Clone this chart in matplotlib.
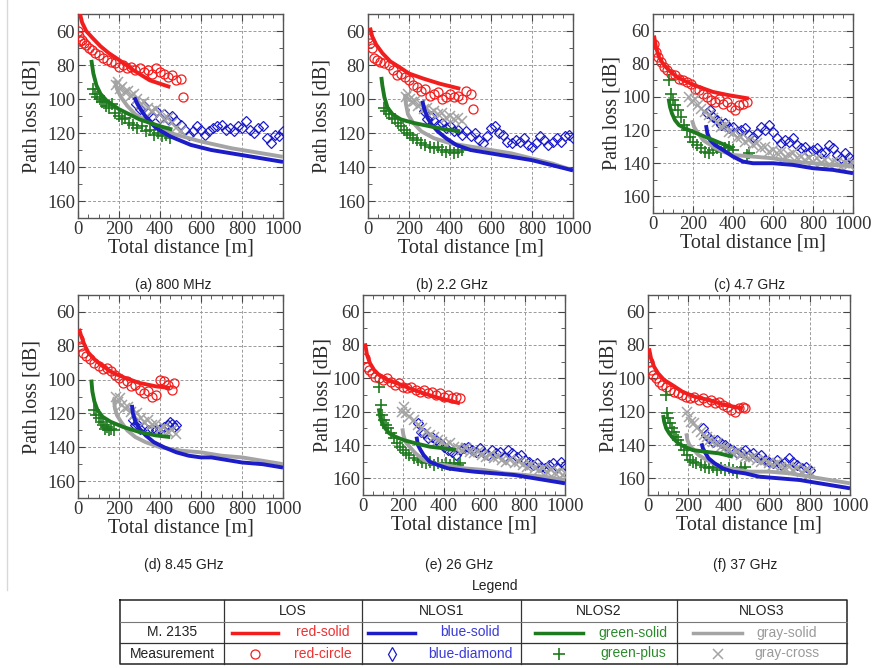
import numpy as np
import matplotlib
matplotlib.use("Agg")
from matplotlib import pyplot as plt
from matplotlib.ticker import MultipleLocator

W, H = 875, 668

RED = "#f21d1d"
BLUE = "#1c1cc8"
GREEN = "#1e7a1e"
GRAY = "#a4a4a4"

SERIF = ["Liberation Serif", "DejaVu Serif"]
SANS = ["Liberation Sans", "DejaVu Sans"]

# ---------- (a) 800 MHz ----------
a_los_fit = [(10, 50), (20, 55), (40, 60), (70, 64), (110, 69), (150, 73), (200, 77), (270, 83), (350, 89), (450, 93)]
a_los_meas = [(0, 60), (5, 63), (10, 66), (20, 65), (30, 67), (40, 68), (55, 70), (70, 71), (85, 73), (100, 74),
              (120, 76), (140, 77), (160, 78), (180, 79), (200, 81), (220, 80), (240, 82), (260, 81), (280, 83),
              (300, 82), (320, 84), (340, 83), (360, 85), (380, 82), (400, 84), (420, 85), (440, 87), (460, 86),
              (480, 89), (500, 88), (510, 99)]
a_n1_fit = [(275, 99), (290, 103), (310, 107), (340, 112), (380, 117), (450, 122), (550, 127), (650, 130), (800, 133), (1000, 137)]
a_n1_meas = [(285, 103), (300, 106), (320, 104), (340, 108), (360, 110), (380, 107), (400, 111), (420, 109), (440, 112),
             (460, 110), (480, 113), (500, 115), (520, 118), (540, 121), (560, 119), (580, 116), (600, 118), (620, 121),
             (640, 119), (660, 117), (680, 116), (700, 115), (720, 118), (740, 117), (760, 119), (780, 116), (800, 117),
             (820, 113), (840, 118), (860, 120), (880, 117), (900, 116), (920, 123), (940, 126), (960, 121), (980, 122), (1000, 119)]
a_n2_fit = [(65, 77), (75, 85), (90, 92), (110, 97), (140, 101), (200, 106), (300, 112), (400, 116), (460, 118)]
a_n2_meas = [(75, 94), (85, 97), (95, 99), (105, 100), (115, 102), (125, 101), (135, 104), (150, 105), (165, 103),
             (180, 108), (200, 110), (215, 112), (230, 111), (250, 114), (270, 115), (290, 117), (310, 116), (330, 119),
             (350, 118), (370, 121), (390, 120), (410, 122), (430, 121), (450, 123)]
a_n3_fit = [(180, 89), (190, 94), (210, 99), (240, 104), (280, 109), (350, 114), (450, 120), (600, 125), (750, 129), (1000, 134)]
a_n3_meas = [(185, 92), (195, 90), (205, 94), (215, 93), (230, 96), (245, 95), (260, 98), (275, 97), (290, 100), (305, 103),
             (320, 102), (340, 105), (360, 107), (380, 106), (400, 109), (420, 112), (440, 111), (460, 114), (480, 117), (500, 119)]

# ---------- (b) 2.2 GHz ----------
b_los_fit = [(10, 58), (20, 63), (40, 68), (70, 73), (110, 78), (150, 81), (200, 85), (270, 88), (350, 91), (450, 94)]
b_los_meas = [(0, 64), (10, 67), (20, 70), (30, 76), (45, 77), (60, 78), (80, 79), (100, 80), (120, 83), (140, 86),
              (160, 85), (180, 87), (200, 89), (220, 92), (240, 93), (260, 95), (280, 94), (300, 98), (320, 97),
              (340, 96), (360, 100), (380, 99), (400, 97), (420, 99), (440, 98), (460, 100), (480, 95), (500, 97), (510, 106)]
b_n1_fit = [(265, 101), (275, 106), (290, 111), (310, 115), (340, 119), (380, 123), (430, 127), (500, 130), (600, 132),
            (700, 134), (800, 136), (900, 139), (1000, 142)]
b_n1_meas = [(275, 107), (290, 112), (305, 110), (320, 113), (340, 115), (360, 114), (380, 117), (400, 116), (420, 119),
             (440, 118), (460, 121), (480, 119), (500, 122), (520, 120), (540, 124), (560, 126), (580, 122), (600, 117),
             (620, 116), (640, 120), (660, 121), (680, 125), (700, 126), (720, 124), (740, 125), (760, 123), (780, 127),
             (800, 128), (820, 126), (840, 122), (860, 124), (880, 127), (900, 125), (920, 123), (940, 125), (960, 122),
             (980, 121), (1000, 123)]
b_n2_fit = [(65, 87), (70, 92), (80, 99), (95, 105), (120, 109), (160, 112), (220, 114), (300, 116), (380, 118), (450, 119)]
b_n2_meas = [(80, 105), (90, 107), (100, 109), (115, 111), (130, 112), (145, 114), (160, 116), (175, 118), (190, 120),
             (205, 121), (220, 123), (240, 124), (260, 126), (280, 127), (300, 128), (320, 129), (340, 128), (360, 130),
             (380, 131), (400, 130), (420, 132), (440, 131), (460, 130)]
b_n3_fit = [(180, 97), (185, 103), (195, 109), (220, 114), (260, 119), (320, 123), (400, 126), (500, 128), (600, 130),
            (700, 132), (800, 135), (900, 138), (1000, 142)]
b_n3_meas = [(185, 99), (195, 97), (205, 100), (215, 102), (230, 101), (245, 104), (260, 103), (275, 106), (290, 105),
             (305, 108), (320, 107), (340, 109), (360, 108), (380, 111), (400, 110), (420, 112), (440, 111), (460, 113)]

# ---------- (c) 4.7 GHz ----------
c_los_fit = [(5, 63), (15, 70), (30, 76), (50, 80), (80, 84), (120, 88), (170, 91), (230, 94), (300, 97), (380, 99), (480, 101)]
c_los_meas = [(5, 68), (15, 73), (25, 76), (40, 79), (55, 82), (70, 84), (90, 86), (110, 87), (130, 89), (150, 90),
              (170, 91), (190, 92), (210, 95), (230, 96), (250, 98), (270, 100), (290, 102), (310, 103), (330, 101),
              (350, 104), (370, 103), (390, 106), (410, 108), (430, 105), (450, 104), (470, 103)]
c_n1_fit = [(265, 117), (272, 122), (285, 126), (310, 129), (350, 132), (400, 136), (450, 139), (500, 140), (600, 140),
            (700, 141), (800, 143), (900, 144), (1000, 146)]
c_n1_meas = [(270, 110), (285, 108), (300, 112), (320, 114), (340, 117), (360, 116), (380, 119), (400, 118), (420, 121),
             (440, 120), (460, 119), (480, 123), (500, 124), (520, 122), (540, 118), (560, 120), (580, 117), (600, 121),
             (620, 125), (640, 128), (660, 126), (680, 127), (700, 125), (720, 129), (740, 131), (760, 130), (780, 133),
             (800, 132), (820, 131), (840, 134), (860, 133), (880, 129), (900, 131), (920, 135), (940, 137), (960, 134),
             (980, 136), (1000, 138)]
c_n2_fit = [(78, 101), (85, 106), (95, 110), (110, 114), (130, 117), (160, 119), (200, 121), (260, 124), (320, 127), (400, 131)]
c_n2_meas = [(80, 90), (90, 98), (100, 102), (110, 105), (125, 108), (140, 112), (155, 117), (170, 120), (185, 124),
             (200, 127), (220, 129), (240, 131), (260, 133), (280, 134), (300, 132), (320, 131), (340, 133), (360, 131),
             (380, 130), (400, 132), (470, 135), (480, 134)]
c_n3_fit = [(195, 114), (205, 118), (220, 121), (250, 126), (300, 130), (350, 133), (400, 135), (500, 136), (600, 137),
            (700, 139), (800, 140), (900, 141), (1000, 142)]
c_n3_meas = [(180, 100), (195, 103), (210, 101), (225, 105), (240, 107), (260, 109), (280, 111), (300, 113), (320, 115),
             (340, 118), (360, 117), (380, 121), (400, 122), (420, 125), (440, 124), (460, 127), (480, 126), (500, 129),
             (520, 128), (540, 131), (560, 130), (580, 133), (600, 132), (620, 134), (640, 133), (660, 136), (680, 135),
             (700, 134), (720, 137), (740, 136), (760, 138), (780, 137), (800, 139), (820, 137), (840, 140), (860, 138),
             (880, 141), (900, 139), (920, 140), (940, 142), (960, 140), (980, 141), (1000, 140)]

# ---------- (d) 8.45 GHz ----------
d_los_fit = [(5, 70), (15, 74), (30, 79), (50, 84), (80, 88), (120, 92), (170, 96), (230, 99), (300, 102), (380, 104), (450, 105)]
d_los_meas = [(5, 76), (15, 80), (25, 84), (40, 86), (60, 88), (80, 90), (100, 92), (120, 94), (140, 93), (160, 95),
              (180, 97), (200, 99), (220, 102), (240, 101), (260, 104), (280, 103), (300, 106), (320, 108), (340, 107),
              (360, 110), (380, 109), (400, 100), (420, 101), (440, 103), (460, 106), (470, 102)]
d_n1_fit = [(263, 115), (268, 120), (280, 125), (300, 129), (330, 133), (370, 137), (420, 140), (480, 143), (540, 145),
            (600, 146), (650, 146), (700, 147), (800, 149), (900, 150), (1000, 152)]
d_n1_meas = [(270, 124), (280, 127), (290, 126), (300, 129), (320, 128), (340, 130), (360, 129), (380, 130), (400, 129),
             (420, 128), (440, 127), (450, 125), (460, 126), (470, 128), (480, 127)]
d_n2_fit = [(65, 100), (70, 107), (80, 113), (95, 118), (120, 122), (160, 125), (220, 128), (300, 131), (380, 133), (450, 134)]
d_n2_meas = [(80, 118), (90, 121), (100, 123), (110, 125), (120, 127), (130, 129), (140, 128), (150, 130), (160, 129), (175, 130)]
d_n3_fit = [(175, 111), (180, 117), (190, 121), (210, 125), (240, 130), (280, 134), (330, 137), (400, 140), (500, 142),
            (600, 143), (700, 145), (800, 146), (900, 148), (1000, 150)]
d_n3_meas = [(185, 110), (195, 113), (205, 111), (215, 115), (230, 117), (245, 116), (260, 119), (275, 121), (290, 120),
             (305, 123), (320, 125), (340, 124), (360, 127), (380, 126), (400, 129), (420, 128), (440, 131), (460, 130), (480, 132)]

# ---------- (e) 26 GHz ----------
e_los_fit = [(10, 79), (20, 86), (35, 91), (55, 95), (80, 98), (120, 101), (170, 103), (230, 106), (300, 109), (380, 112), (480, 115)]
e_los_meas = [(10, 88), (20, 93), (30, 95), (45, 97), (60, 99), (80, 100), (100, 101), (120, 100), (140, 102), (160, 104),
              (180, 103), (200, 105), (220, 106), (240, 105), (260, 107), (280, 108), (300, 107), (320, 109), (340, 108),
              (360, 110), (380, 109), (400, 111), (420, 110), (440, 112), (460, 111), (480, 112)]
e_n1_fit = [(265, 135), (272, 140), (285, 143), (300, 146), (330, 150), (370, 152), (420, 154), (480, 155), (550, 156),
            (650, 157), (750, 158), (850, 160), (1000, 163)]
e_n1_meas = [(270, 127), (285, 132), (300, 133), (320, 136), (340, 135), (360, 137), (380, 139), (400, 141), (420, 143),
             (440, 144), (460, 146), (480, 143), (500, 142), (520, 141), (540, 143), (560, 144), (580, 142), (600, 145),
             (620, 146), (640, 143), (660, 145), (680, 144), (700, 147), (720, 143), (740, 145), (760, 147), (780, 146),
             (800, 149), (820, 150), (840, 152), (860, 151), (880, 153), (900, 154), (920, 152), (940, 151), (960, 153),
             (980, 150), (1000, 152)]
e_n2_fit = [(78, 118), (85, 123), (95, 127), (110, 130), (130, 133), (160, 135), (200, 137), (260, 139), (330, 141), (400, 142), (460, 143)]
e_n2_meas = [(80, 105), (90, 116), (95, 122), (105, 125), (115, 128), (125, 130), (140, 133), (155, 136), (170, 139),
             (185, 141), (200, 143), (215, 145), (230, 146), (250, 148), (270, 149), (290, 150), (310, 151), (330, 150),
             (350, 152), (370, 151), (390, 152), (410, 151), (430, 152), (450, 151), (470, 152), (480, 151)]
e_n3_fit = [(195, 130), (200, 134), (210, 138), (230, 141), (260, 145), (300, 149), (350, 151), (400, 152), (500, 154),
            (600, 155), (700, 157), (800, 158), (900, 159), (1000, 161)]
e_n3_meas = [(195, 120), (205, 117), (215, 121), (230, 123), (250, 125), (270, 128), (290, 130), (310, 132), (330, 134),
             (350, 135), (370, 137), (390, 138), (410, 140), (430, 139), (450, 141), (470, 142), (490, 143), (510, 142),
             (530, 144), (550, 145), (570, 144), (590, 146), (610, 147), (630, 146), (650, 148), (670, 147), (690, 149),
             (710, 150), (730, 149), (750, 151), (770, 150), (790, 152), (810, 153), (830, 152), (850, 154), (870, 155),
             (890, 154), (910, 156), (930, 155), (950, 157), (970, 156), (990, 158), (1000, 157)]

# ---------- (f) 37 GHz ----------
f_los_fit = [(5, 82), (15, 88), (30, 93), (50, 97), (80, 101), (120, 104), (170, 108), (230, 111), (300, 113), (380, 116), (470, 118)]
f_los_meas = [(5, 90), (15, 95), (25, 98), (40, 100), (55, 102), (70, 104), (90, 105), (110, 107), (130, 108), (150, 109),
              (170, 110), (190, 111), (210, 112), (230, 111), (250, 113), (270, 112), (290, 114), (310, 113), (330, 115),
              (350, 114), (370, 116), (390, 117), (410, 119), (430, 120), (450, 118), (470, 117), (480, 118)]
f_n1_fit = [(265, 139), (272, 142), (285, 145), (300, 148), (330, 151), (370, 154), (420, 156), (480, 157), (550, 159),
            (650, 160), (750, 161), (850, 163), (1000, 166)]
f_n1_meas = [(270, 130), (285, 134), (300, 136), (320, 138), (340, 137), (360, 139), (380, 140), (400, 142), (420, 143),
             (440, 145), (460, 144), (480, 143), (500, 146), (520, 145), (540, 147), (560, 146), (580, 149), (600, 150),
             (620, 151), (640, 149), (660, 152), (680, 150), (700, 148), (720, 150), (740, 152), (760, 154), (780, 153), (800, 155)]
f_n2_fit = [(75, 122), (80, 126), (90, 130), (105, 133), (125, 136), (150, 139), (180, 141), (220, 143), (280, 144), (350, 145), (420, 147)]
f_n2_meas = [(88, 110), (95, 121), (100, 124), (110, 127), (120, 130), (130, 132), (140, 135), (150, 137), (165, 140),
             (180, 143), (195, 146), (210, 149), (225, 150), (240, 151), (260, 152), (280, 153), (300, 154), (320, 153),
             (340, 155), (360, 154), (380, 155), (400, 154), (420, 155), (440, 156), (460, 154), (480, 153)]
f_n3_fit = [(190, 133), (195, 137), (205, 140), (220, 142), (250, 146), (290, 149), (340, 152), (400, 154), (500, 156),
            (600, 156), (700, 157), (800, 159), (900, 161), (1000, 163)]
f_n3_meas = [(195, 120), (205, 123), (215, 126), (230, 127), (245, 130), (260, 132), (275, 134), (290, 135), (305, 137),
             (320, 138), (340, 139), (360, 141), (380, 142), (400, 143), (420, 145), (440, 144), (460, 146), (480, 147),
             (500, 148), (520, 147), (540, 149), (560, 150), (580, 149), (600, 151), (620, 152), (640, 151), (660, 153),
             (680, 154), (700, 153), (720, 155), (740, 154), (760, 156), (780, 155), (800, 156)]

CAPTIONS = ["(a) 800 MHz", "(b) 2.2 GHz", "(c) 4.7 GHz", "(d) 8.45 GHz", "(e) 26 GHz", "(f) 37 GHz"]
SCENARIOS = ["LOS", "NLOS1", "NLOS2", "NLOS3"]
ROW_NAMES = ["M. 2135", "Measurement"]
LINE_NAMES = ["red-solid", "blue-solid", "green-solid", "gray-solid"]
MARK_NAMES = ["red-circle", "blue-diamond", "green-plus", "gray-cross"]

FITS = [
    [a_los_fit, a_n1_fit, a_n2_fit, a_n3_fit],
    [b_los_fit, b_n1_fit, b_n2_fit, b_n3_fit],
    [c_los_fit, c_n1_fit, c_n2_fit, c_n3_fit],
    [d_los_fit, d_n1_fit, d_n2_fit, d_n3_fit],
    [e_los_fit, e_n1_fit, e_n2_fit, e_n3_fit],
    [f_los_fit, f_n1_fit, f_n2_fit, f_n3_fit],
]
MEAS = [
    [a_los_meas, a_n1_meas, a_n2_meas, a_n3_meas],
    [b_los_meas, b_n1_meas, b_n2_meas, b_n3_meas],
    [c_los_meas, c_n1_meas, c_n2_meas, c_n3_meas],
    [d_los_meas, d_n1_meas, d_n2_meas, d_n3_meas],
    [e_los_meas, e_n1_meas, e_n2_meas, e_n3_meas],
    [f_los_meas, f_n1_meas, f_n2_meas, f_n3_meas],
]

# layout in pixels: axes box (left, top, right, bottom), caption centre, ylabel offset
BOXES = [(78, 14, 283, 218), (368, 14, 573, 218), (653, 14, 853, 213),
         (78, 295, 283, 498), (363, 295, 565, 495), (648, 295, 850, 495)]
CAP_POS = [(173, 285), (452, 285), (750, 285), (184, 565), (459, 565), (745, 565)]
YLAB_OFF = [46, 46, 41, 46, 40, 39]

COLORS = [RED, BLUE, GREEN, GRAY]
MARKERS = [dict(marker="o", ms=6.5, mfc="none", mec=RED, mew=0.9),
           dict(marker="D", ms=5.5, mfc="none", mec=BLUE, mew=0.9),
           dict(marker="+", ms=8, mec=GREEN, mew=1.2),
           dict(marker="x", ms=6.5, mec=GRAY, mew=1.1)]
TEXT_COLORS = ["#ee3030", "#3a3ad8", "#2c8a2c", "#9a9a9a"]


def draw_panel(fig, box, fits, meas, ylab_off):
    l, t, r, b = box
    ax = fig.add_axes([l / W, 1 - b / H, (r - l) / W, (b - t) / H])
    for pts, mk in zip(meas, MARKERS):
        x, y = np.array(pts).T
        ax.plot(x, y, ls="none", **mk, zorder=3)
    for idx in [3, 1, 2, 0]:
        x, y = np.array(fits[idx]).T
        ax.plot(x, y, color=COLORS[idx], lw=2.8, solid_capstyle="butt", zorder=4)
    ax.set_xlim(0, 1000)
    ax.set_ylim(170, 50)
    ax.set_xticks(np.arange(0, 1001, 200))
    ax.set_yticks(np.arange(60, 161, 20))
    ax.xaxis.set_minor_locator(MultipleLocator(50))
    ax.yaxis.set_minor_locator(MultipleLocator(10))
    ax.tick_params(which="both", direction="in", top=True, right=True, colors="#444444",
                   labelcolor="#333333", labelsize=13.5)
    ax.tick_params(which="major", length=5, width=0.8)
    ax.tick_params(which="minor", length=3, width=0.6)
    ax.tick_params(axis="x", pad=2)
    ax.tick_params(axis="y", pad=2)
    for lab in ax.get_xticklabels() + ax.get_yticklabels():
        lab.set_family(SERIF)
    ax.grid(True, which="major", ls=(0, (3, 2)), lw=0.7, color="#9a9a9a")
    for s in ax.spines.values():
        s.set_color("#555555")
        s.set_linewidth(1.0)
    ax.text(0.5, -30 / (b - t), "Total distance [m]", transform=ax.transAxes, ha="center", va="center",
            family=SERIF, fontsize=14.5, color="#2a2a2a")
    ax.text(-ylab_off / (r - l), 0.5, "Path loss [dB]", transform=ax.transAxes, ha="center", va="center",
            rotation=90, family=SERIF, fontsize=14.5, color="#2a2a2a")
    return ax


def main():
    fig = plt.figure(figsize=(W / 100, H / 100), dpi=100)
    fig.patch.set_facecolor("white")

    for i in range(6):
        draw_panel(fig, BOXES[i], FITS[i], MEAS[i], YLAB_OFF[i])

    # overlay in pixel coordinates for captions and the legend table
    ov = fig.add_axes([0, 0, 1, 1], facecolor="none")
    ov.set_xlim(0, W)
    ov.set_ylim(H, 0)
    ov.axis("off")

    ov.plot([7, 7], [0, 590], color="#d8d8d8", lw=1)

    for cap, (cx, cy) in zip(CAPTIONS, CAP_POS):
        ov.text(cx, cy, cap, ha="center", va="center", family=SANS, fontsize=10, color="#222222")

    ov.text(495, 586, "Legend", ha="center", va="center", family=SANS, fontsize=10, color="#222222")

    cols = [120, 224, 362, 521, 677, 847]
    rows = [600, 622, 643, 664]
    ov.plot([cols[0], cols[-1], cols[-1], cols[0], cols[0]], [rows[0], rows[0], rows[-1], rows[-1], rows[0]],
            color="#222222", lw=1.1)
    for cx in cols[1:-1]:
        ov.plot([cx, cx], [rows[0], rows[-1]], color="#333333", lw=0.9)
    ov.plot([cols[0], cols[-1]], [rows[1], rows[1]], color="#777777", lw=0.8)
    ov.plot([cols[0], cols[-1]], [rows[2], rows[2]], color="#333333", lw=0.9)

    for j, name in enumerate(SCENARIOS):
        ov.text((cols[j + 1] + cols[j + 2]) / 2, (rows[0] + rows[1]) / 2, name, ha="center", va="center",
                family=SANS, fontsize=10, color="#222222")
    for k, name in enumerate(ROW_NAMES):
        ov.text((cols[0] + cols[1]) / 2, (rows[k + 1] + rows[k + 2]) / 2, name, ha="center", va="center",
                family=SANS, fontsize=10, color="#222222")

    sample_x = [(232, 278), (368, 415), (535, 583), (693, 742)]
    label_x = [323, 470, 633, 787]
    y_line = (rows[1] + rows[2]) / 2
    y_mark = (rows[2] + rows[3]) / 2
    for j in range(4):
        x0, x1 = sample_x[j]
        ov.plot([x0, x1], [y_line, y_line], color=COLORS[j], lw=2.5)
        mk = dict(MARKERS[j])
        if j == 1:
            mk["marker"] = "d"
            mk["ms"] = 7
        ov.plot([(x0 + x1) / 2], [y_mark], ls="none", **mk)
        ov.text(label_x[j], y_line, LINE_NAMES[j], ha="center", va="center", family=SANS, fontsize=10,
                color=TEXT_COLORS[j])
        ov.text(label_x[j], y_mark, MARK_NAMES[j], ha="center", va="center", family=SANS, fontsize=10,
                color=TEXT_COLORS[j])

    fig.savefig("out.png", dpi=100)


if __name__ == "__main__":
    main()
